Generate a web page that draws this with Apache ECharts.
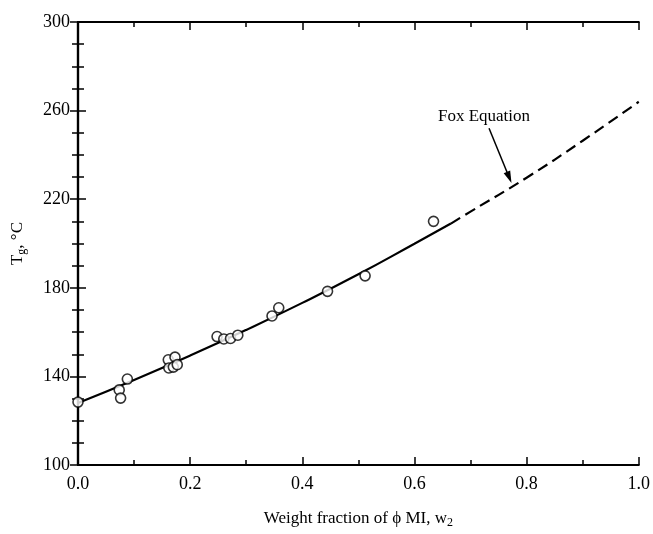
<!DOCTYPE html>
<html>
<head>
<meta charset="utf-8">
<script src="https://cdn.jsdelivr.net/npm/echarts@6/dist/echarts.min.js"></script>
<style>html,body{margin:0;padding:0;background:#fff}#c{width:653px;height:534px}</style>
</head>
<body>
<div id="c"></div>
<script>
// Measured data points (w2, Tg °C)
const pointX = [0.0, 0.0735, 0.076, 0.088, 0.161, 0.173, 0.162, 0.170, 0.177, 0.248, 0.260, 0.272, 0.285, 0.346, 0.358, 0.445, 0.512, 0.634];
const pointY = [128.4, 133.9, 130.2, 138.8, 147.5, 148.7, 143.8, 144.2, 145.3, 158.0, 156.9, 157.1, 158.6, 167.3, 171.0, 178.4, 185.4, 210.0];
// Fitted curve: solid part and dashed (Fox equation) part
const solidX = [0.0, 0.1, 0.2, 0.3, 0.4, 0.5, 0.6, 0.665];
const solidY = [128.0, 138.4, 149.4, 161.0, 173.2, 186.1, 199.9, 209.0];
const dashX = [0.665, 0.7, 0.8, 0.9, 1.0];
const dashY = [209.0, 214.4, 229.7, 246.4, 264.0];
// Annotation
const annText = 'Fox Equation';
const annTextPos = [0.724, 257.2];
const arrowFrom = [0.733, 252.0];
const arrowTo = [0.769, 229.8];
// Axis tick labels
const xTicks = ['0.0', '0.2', '0.4', '0.6', '0.8', '1.0'];
const yTicks = ['100', '140', '180', '220', '260', '300'];

const zip = (a, b) => a.map((v, i) => [v, b[i]]);
const font = 'Liberation Serif';
const axisLine = { show: true, lineStyle: { color: '#000', width: 2.2 } };
const subStyle = { fontFamily: font, fontSize: 12, verticalAlign: 'bottom', padding: [8, 0, 0, 0], color: '#000' };

const chart = echarts.init(document.getElementById('c'), null, { renderer: 'canvas' });
chart.setOption({
  animation: false,
  backgroundColor: '#fff',
  grid: { left: 78, right: 13, top: 22, bottom: 62, containLabel: false },
  xAxis: [{
    type: 'value', min: 0, max: 1, interval: 0.2, position: 'bottom',
    axisLine: axisLine,
    axisTick: { show: true, inside: true, length: 8, lineStyle: { color: '#000', width: 1.5 } },
    minorTick: { show: true, splitNumber: 2, length: 5, lineStyle: { color: '#000', width: 1.5 } },
    splitLine: { show: false },
    axisLabel: { color: '#000', fontFamily: font, fontSize: 18, margin: 10,
      formatter: v => xTicks[Math.round(v / 0.2)] },
    name: 'Weight fraction of ϕ MI, w{sub|2}',
    nameLocation: 'middle', nameGap: 44,
    nameTextStyle: { color: '#000', fontFamily: font, fontSize: 17, rich: { sub: subStyle } }
  }, {
    type: 'value', min: 0, max: 1, interval: 0.2, position: 'top',
    axisLine: axisLine,
    axisTick: { show: true, inside: true, length: 8, lineStyle: { color: '#000', width: 1.5 } },
    minorTick: { show: true, splitNumber: 2, length: 5, lineStyle: { color: '#000', width: 1.5 } },
    splitLine: { show: false }, axisLabel: { show: false }
  }],
  yAxis: [{
    type: 'value', min: 100, max: 300, interval: 40, position: 'left',
    axisLine: axisLine,
    axisTick: { show: true, inside: true, length: 8, lineStyle: { color: '#000', width: 1.5 } },
    minorTick: { show: true, splitNumber: 4, length: 6, lineStyle: { color: '#000', width: 1.5 } },
    splitLine: { show: false },
    axisLabel: { color: '#000', fontFamily: font, fontSize: 18, margin: 8,
      formatter: v => yTicks[Math.round((v - 100) / 40)] },
    name: 'T{sub|g}, °C',
    nameLocation: 'middle', nameGap: 50, nameRotate: 90,
    nameTextStyle: { color: '#000', fontFamily: font, fontSize: 17, rich: { sub: subStyle } }
  }, {
    type: 'value', min: 100, max: 300, interval: 40, position: 'right',
    axisLine: axisLine,
    axisTick: { show: true, inside: true, length: 8, lineStyle: { color: '#000', width: 1.5 } },
    minorTick: { show: true, splitNumber: 4, length: 6, lineStyle: { color: '#000', width: 1.5 } },
    splitLine: { show: false }, axisLabel: { show: false }
  }],
  series: [{
    type: 'line', data: zip(solidX, solidY), smooth: true, showSymbol: false,
    lineStyle: { color: '#000', width: 2.2 }, z: 2
  }, {
    type: 'line', data: zip(dashX, dashY), smooth: true, showSymbol: false,
    lineStyle: { color: '#000', width: 2.2, type: [11, 6] }, z: 2,
    markLine: {
      silent: true, symbol: ['none', 'triangle'], symbolSize: [7, 12],
      label: { show: false },
      lineStyle: { color: '#000', width: 1.5, type: 'solid' },
      data: [[{ coord: arrowFrom }, { coord: arrowTo }]]
    },
    markPoint: {
      silent: true, symbol: 'circle', symbolSize: 0,
      label: { show: true, position: 'inside', color: '#000', fontFamily: font, fontSize: 17, formatter: annText },
      data: [{ coord: annTextPos }]
    }
  }, {
    type: 'scatter', data: zip(pointX, pointY), symbol: 'circle', symbolSize: 10,
    itemStyle: { color: '#fff', borderColor: '#000', borderWidth: 1.6 }, z: 5
  }]
});
</script>
</body>
</html>
